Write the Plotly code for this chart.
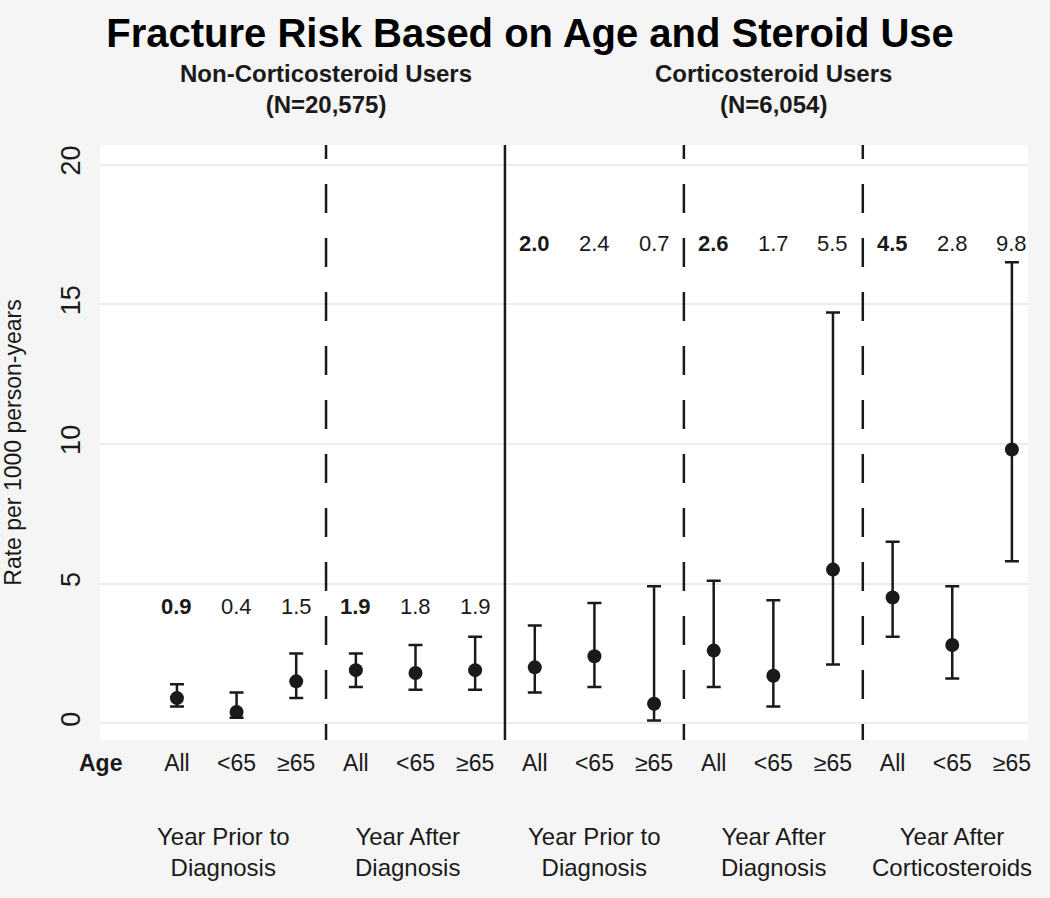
import plotly.graph_objects as go

# ---- data ----
age_labels = ["All", "<65", "≥65"] * 5
rates = [0.9, 0.4, 1.5, 1.9, 1.8, 1.9, 2.0, 2.4, 0.7, 2.6, 1.7, 5.5, 4.5, 2.8, 9.8]
ci_upper = [1.4, 1.1, 2.5, 2.5, 2.8, 3.1, 3.5, 4.3, 4.9, 5.1, 4.4, 14.7, 6.5, 4.9, 16.5]
ci_lower = [0.6, 0.2, 0.9, 1.3, 1.2, 1.2, 1.1, 1.3, 0.1, 1.3, 0.6, 2.1, 3.1, 1.6, 5.8]
period_labels = ["Year Prior to<br>Diagnosis", "Year After<br>Diagnosis",
                 "Year Prior to<br>Diagnosis", "Year After<br>Diagnosis",
                 "Year After<br>Corticosteroids"]
cohort_labels = ["Non-Corticosteroid Users<br>(N=20,575)", "Corticosteroid Users<br>(N=6,054)"]
y_ticks = [0, 5, 10, 15, 20]

xpos = list(range(1, len(rates) + 1))
FONT = "Liberation Sans, Arial, sans-serif"
INK = "#1a1a1a"

fig = go.Figure()
fig.add_trace(go.Scatter(
    x=xpos, y=rates, mode="markers",
    marker=dict(size=14, color=INK),
    error_y=dict(type="data", symmetric=False,
                 array=[u - r for u, r in zip(ci_upper, rates)],
                 arrayminus=[r - l for r, l in zip(rates, ci_lower)],
                 color=INK, thickness=2.5, width=7),
    showlegend=False, hoverinfo="skip"))

# value labels above each group
for i, (x, r) in enumerate(zip(xpos, rates)):
    yv = 4.19 if i < 6 else 17.17
    txt = f"<b>{r:.1f}</b>" if age_labels[i] == "All" else f"{r:.1f}"
    fig.add_annotation(x=x, y=yv, xref="x", yref="y", text=txt, showarrow=False,
                       font=dict(size=22, color=INK, family=FONT))

# divider lines (solid between cohorts, dashed between periods)
dash_pattern = "14px,25px," + ",".join(["29px,25px"] * 12)
for xd in [3.5, 6.5, 9.5, 12.5]:
    fig.add_shape(type="line", x0=xd, x1=xd, y0=1, y1=0, xref="x", yref="paper",
                  line=dict(color=INK, width=2.5,
                            dash="solid" if xd == 6.5 else dash_pattern))

# period labels (centred under each group of three)
label_shift = [-0.22, -0.13, 0, 0, 0]
for k, lab in enumerate(period_labels):
    fig.add_annotation(x=2 + 3 * k + label_shift[k], y=-0.189, xref="x", yref="paper", text=lab,
                       showarrow=False, yanchor="middle",
                       font=dict(size=24, color=INK, family=FONT))

# cohort labels (centred over each cohort's groups)
for xc, lab in zip([3.5, 11], cohort_labels):
    fig.add_annotation(x=xc, y=1.0933, xref="x", yref="paper", text="<b>" + lab + "</b>",
                       showarrow=False, yanchor="middle",
                       font=dict(size=24, color=INK, family=FONT))

fig.add_annotation(x=0, y=-0.0387, xref="paper", yref="paper", text="<b>Age</b>",
                   showarrow=False, yanchor="middle", xanchor="center",
                   font=dict(size=23, color=INK, family=FONT))

fig.update_layout(
    width=1050, height=898,
    paper_bgcolor="#f5f5f5", plot_bgcolor="white",
    margin=dict(l=100, r=22, t=145, b=158),
    title=dict(text="<b>Fracture Risk Based on Age and Steroid Use</b>",
               x=0.5048, xanchor="center", y=0.9633, yanchor="middle",
               font=dict(size=40, color="black", family=FONT)),
    font=dict(family=FONT, color=INK),
    xaxis=dict(range=[-0.29, 15.27], tickmode="array", tickvals=xpos, ticktext=age_labels,
               showgrid=False, zeroline=False, ticks="", ticklen=0, ticklabelstandoff=7,
               tickfont=dict(size=23, color=INK, family=FONT), showline=False),
    yaxis=dict(range=[-0.6, 20.7], tickvals=y_ticks, tickangle=-90,
               showgrid=True, gridcolor="#ebebeb", gridwidth=1.5, zeroline=False,
               ticks="", ticklabelstandoff=14, tickfont=dict(size=27, color=INK, family=FONT),
               title=dict(text="Rate per 1000 person-years", standoff=28,
                          font=dict(size=23, color=INK, family=FONT))),
)

fig.write_html("out.html", config={"displayModeBar": False},
               post_script="document.body.style.margin='0px';")
